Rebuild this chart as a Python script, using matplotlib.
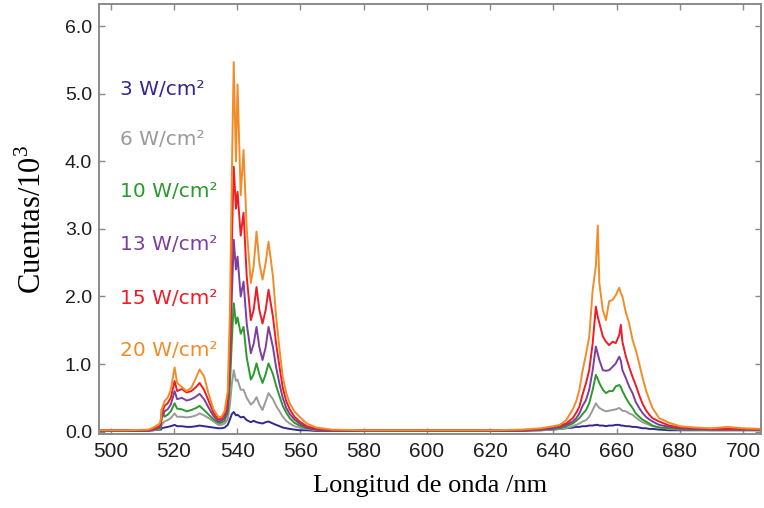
import matplotlib
matplotlib.use("Agg")
import matplotlib.pyplot as plt
from matplotlib.ticker import FormatStrFormatter, MultipleLocator


# shared wavelength grid (nm)
wl = [496, 505, 512, 513.5, 515.5, 515.9, 516.1, 517, 518, 519,
      520.2, 521, 522.5, 524, 525.5, 527, 528.1, 529.5, 531, 532.5,
      534, 535, 536, 537, 537.7, 538.3, 538.9, 539.6, 540.1, 541.1,
      542.0, 543.0, 544.3, 545.2, 546.1, 547.0, 548.0, 549.0, 549.9, 551.3,
      552.3, 553.4, 554.4, 555.5, 556.6, 558.1, 559.7, 562, 565, 570,
      580, 600, 620, 630, 636, 640, 642, 644, 646.1, 647.2,
      648.2, 649.2, 650.3, 651.3, 652.4, 653.4, 654.0, 654.5, 655.6, 656.6,
      657.6, 658.7, 659.7, 660.8, 661.3, 661.8, 662.9, 663.9, 665, 666,
      667.1, 668.1, 669.2, 670.3, 671.3, 673.4, 676.6, 680, 685, 690,
      695, 700, 705.6]

# counts / 10^3 for each excitation power density
w3 = [0.01, 0.01, 0.01, 0.02, 0.03, 0.03, 0.05, 0.06, 0.07, 0.08,
      0.10, 0.08, 0.08, 0.07, 0.07, 0.08, 0.09, 0.08, 0.07, 0.06,
      0.05, 0.05, 0.06, 0.10, 0.18, 0.26, 0.29, 0.24, 0.25, 0.21,
      0.22, 0.17, 0.14, 0.16, 0.14, 0.13, 0.12, 0.14, 0.15, 0.12,
      0.10, 0.08, 0.06, 0.05, 0.04, 0.03, 0.02, 0.02, 0.01, 0.01,
      0.01, 0.01, 0.01, 0.01, 0.02, 0.03, 0.04, 0.05, 0.06, 0.07,
      0.07, 0.08, 0.08, 0.09, 0.09, 0.10, 0.10, 0.09, 0.09, 0.08,
      0.09, 0.09, 0.10, 0.10, 0.09, 0.09, 0.08, 0.08, 0.07, 0.07,
      0.06, 0.05, 0.05, 0.04, 0.04, 0.03, 0.02, 0.02, 0.02, 0.02,
      0.02, 0.02, 0.02]

w6 = [0.02, 0.02, 0.02, 0.02, 0.04, 0.06, 0.10, 0.15, 0.17, 0.20,
      0.27, 0.22, 0.22, 0.21, 0.22, 0.24, 0.27, 0.24, 0.20, 0.15,
      0.10, 0.10, 0.12, 0.18, 0.40, 0.70, 0.91, 0.75, 0.77, 0.62,
      0.62, 0.50, 0.40, 0.44, 0.51, 0.40, 0.32, 0.45, 0.57, 0.48,
      0.38, 0.30, 0.22, 0.16, 0.12, 0.08, 0.06, 0.04, 0.02, 0.02,
      0.02, 0.02, 0.02, 0.02, 0.02, 0.03, 0.04, 0.05, 0.08, 0.10,
      0.12, 0.15, 0.17, 0.22, 0.32, 0.42, 0.38, 0.35, 0.32, 0.30,
      0.31, 0.32, 0.33, 0.35, 0.33, 0.31, 0.30, 0.27, 0.25, 0.21,
      0.17, 0.14, 0.12, 0.10, 0.08, 0.06, 0.04, 0.03, 0.03, 0.02,
      0.02, 0.02, 0.02]

w10 = [0.02, 0.02, 0.02, 0.03, 0.05, 0.06, 0.33, 0.22, 0.25, 0.30,
       0.42, 0.34, 0.33, 0.30, 0.32, 0.35, 0.38, 0.32, 0.25, 0.18,
       0.13, 0.13, 0.16, 0.28, 0.70, 1.35, 1.90, 1.60, 1.69, 1.45,
       1.55, 1.10, 0.77, 0.85, 1.01, 0.85, 0.72, 0.85, 1.01, 0.85,
       0.68, 0.52, 0.38, 0.28, 0.20, 0.13, 0.09, 0.05, 0.03, 0.02,
       0.02, 0.02, 0.02, 0.02, 0.03, 0.04, 0.05, 0.08, 0.12, 0.16,
       0.20, 0.26, 0.32, 0.42, 0.62, 0.84, 0.78, 0.72, 0.62, 0.57,
       0.60, 0.60, 0.67, 0.69, 0.66, 0.60, 0.50, 0.42, 0.35, 0.27,
       0.22, 0.18, 0.15, 0.12, 0.09, 0.06, 0.05, 0.04, 0.03, 0.03,
       0.03, 0.03, 0.03]

w13 = [0.02, 0.02, 0.02, 0.03, 0.07, 0.12, 0.20, 0.30, 0.33, 0.40,
       0.60, 0.48, 0.50, 0.46, 0.48, 0.52, 0.56, 0.48, 0.35, 0.23,
       0.15, 0.16, 0.20, 0.35, 1.00, 2.00, 2.84, 2.40, 2.59, 2.00,
       2.22, 1.60, 1.16, 1.30, 1.55, 1.25, 1.06, 1.25, 1.55, 1.25,
       0.95, 0.70, 0.50, 0.35, 0.26, 0.18, 0.12, 0.06, 0.03, 0.02,
       0.02, 0.02, 0.02, 0.02, 0.03, 0.05, 0.07, 0.10, 0.15, 0.20,
       0.27, 0.38, 0.47, 0.62, 0.91, 1.26, 1.15, 1.06, 0.91, 0.90,
       0.91, 0.96, 1.01, 1.11, 1.05, 0.91, 0.79, 0.67, 0.57, 0.44,
       0.35, 0.28, 0.22, 0.18, 0.15, 0.10, 0.07, 0.05, 0.04, 0.03,
       0.03, 0.03, 0.03]

w15 = [0.02, 0.02, 0.02, 0.04, 0.08, 0.15, 0.25, 0.38, 0.42, 0.50,
       0.75, 0.60, 0.63, 0.58, 0.60, 0.66, 0.72, 0.62, 0.45, 0.28,
       0.18, 0.19, 0.25, 0.45, 1.30, 2.80, 3.92, 3.30, 3.55, 2.90,
       3.24, 2.30, 1.65, 1.80, 2.14, 1.80, 1.60, 1.80, 2.10, 1.70,
       1.30, 0.95, 0.65, 0.45, 0.33, 0.22, 0.15, 0.08, 0.04, 0.02,
       0.02, 0.02, 0.02, 0.02, 0.04, 0.07, 0.09, 0.12, 0.20, 0.28,
       0.37, 0.55, 0.72, 0.91, 1.31, 1.85, 1.70, 1.61, 1.41, 1.33,
       1.28, 1.33, 1.31, 1.43, 1.58, 1.33, 1.11, 0.96, 0.81, 0.69,
       0.54, 0.42, 0.32, 0.25, 0.20, 0.15, 0.09, 0.06, 0.05, 0.04,
       0.04, 0.04, 0.03]

w20 = [0.02, 0.02, 0.03, 0.06, 0.12, 0.20, 0.32, 0.45, 0.50, 0.62,
       0.95, 0.72, 0.66, 0.60, 0.65, 0.80, 0.92, 0.82, 0.55, 0.33,
       0.22, 0.22, 0.30, 0.60, 1.80, 3.80, 5.47, 4.00, 5.14, 3.50,
       4.17, 3.00, 2.20, 2.45, 2.96, 2.50, 2.25, 2.50, 2.81, 2.30,
       1.70, 1.21, 0.81, 0.57, 0.42, 0.30, 0.22, 0.12, 0.06, 0.03,
       0.02, 0.02, 0.02, 0.03, 0.05, 0.08, 0.10, 0.17, 0.33, 0.45,
       0.62, 0.90, 1.15, 1.40, 2.10, 2.45, 3.05, 2.20, 1.80, 1.65,
       1.93, 1.95, 2.02, 2.13, 2.05, 2.00, 1.76, 1.61, 1.36, 1.21,
       1.01, 0.81, 0.62, 0.47, 0.35, 0.20, 0.13, 0.08, 0.06, 0.05,
       0.07, 0.05, 0.04]

labels = ["3 W/cm²", "6 W/cm²", "10 W/cm²",
          "13 W/cm²", "15 W/cm²", "20 W/cm²"]
series = [w3, w6, w10, w13, w15, w20]
colors = ["#33288f", "#9a9a9a", "#2b9a2b", "#7d3f9e", "#ee1c24", "#f28c28"]
label_y = [0.80, 0.684, 0.563, 0.44, 0.316, 0.195]


def style_axes(ax):
    ax.set_xlim(496.3, 705.6)
    ax.set_ylim(-0.035, 6.33)
    ax.xaxis.set_major_locator(MultipleLocator(20))
    ax.yaxis.set_major_locator(MultipleLocator(1))
    ax.yaxis.set_major_formatter(FormatStrFormatter("%.1f"))
    ax.tick_params(direction="in", top=True, right=True, length=4,
                   width=1, color="#888888", labelcolor="#1e1e1e")
    ax.tick_params(axis="x", labelsize=15, pad=6)
    ax.tick_params(axis="y", labelsize=14, pad=5)
    for lab in ax.get_xticklabels() + ax.get_yticklabels():
        lab.set_family("Liberation Sans")
    for sp in ax.spines.values():
        sp.set_color("#8a8a8a")
        sp.set_linewidth(1.4)
    ax.set_xlabel("Longitud de onda /nm", family="Liberation Serif",
                  fontsize=19, labelpad=10)
    ax.set_ylabel("Cuentas/10$^3$", family="Liberation Serif",
                  fontsize=22, labelpad=12)


def main():
    plt.rcParams["mathtext.fontset"] = "custom"
    plt.rcParams["mathtext.rm"] = "Liberation Serif"
    fig = plt.figure(figsize=(7.64, 5.08), dpi=100)
    ax = fig.add_axes([0.1296, 0.1457, 0.8664, 0.8465])

    for vals, col in zip(series, colors):
        ax.plot(wl, vals, color=col, lw=1.4)

    for text, col, y in zip(labels, colors, label_y):
        ax.text(0.032, y, text, transform=ax.transAxes, color=col,
                fontsize=14.5, family="DejaVu Sans", va="center", ha="left")

    style_axes(ax)
    fig.savefig("out.png", dpi=100)


if __name__ == "__main__":
    main()
